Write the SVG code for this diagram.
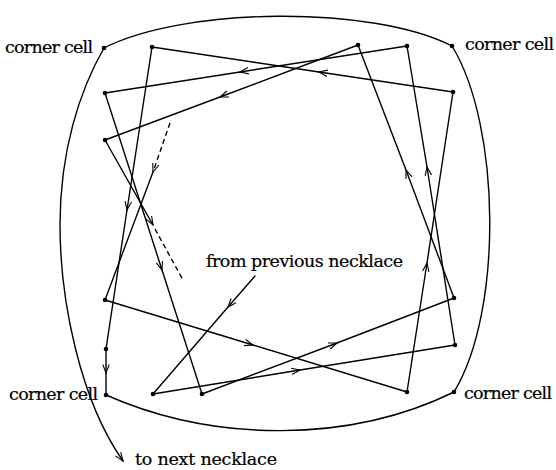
<svg xmlns="http://www.w3.org/2000/svg" width="556" height="470" viewBox="0 0 556 470">
<style>
.ln{fill:none;stroke:#000;stroke-width:1.4;stroke-linecap:round;stroke-linejoin:round}
.ar{marker-mid:url(#arr)}
.dash{stroke-dasharray:5 3.5;stroke-linecap:butt}
.dot{fill:#000}
text{font-family:"DejaVu Serif","Liberation Serif",serif;font-size:17.5px;fill:#000;stroke:#000;stroke-width:0.2}
</style>
<defs>
<marker id="arr" markerUnits="userSpaceOnUse" markerWidth="12" markerHeight="10" viewBox="-10 -5 12 10" refX="0" refY="0" orient="auto" overflow="visible">
<path d="M-8.5,-3.2 L0,0 L-8.5,3.2" fill="none" stroke="#000" stroke-width="1.1"/>
</marker>
</defs>
<g id="border">
<path class="ln" d="M104,48 C184,7 372,5 452,46"/>
<path class="ln" d="M452,46 C501,126 503,312 454,392"/>
<path class="ln" d="M106,395 C215,443 350,443 454,392"/>
<path class="ln" d="M104,48 C80,90 60,150 60,225 C60,300 80,400 123,461" marker-end="url(#arr)"/>
</g>
<g id="connectors">
<path class="ln ar" d="M255,276 L228,307 L153,394"/>
<path class="ln ar" d="M153,394 L300,370 L455,345"/>
<path class="ln ar" d="M455,345 L427,167 L407,46"/>
<path class="ln ar" d="M407,46 L240,72 L105,93"/>
<path class="ln ar" d="M105,93 L162,270 L202,394"/>
<path class="ln ar" d="M202,394 L337,343 L454,298"/>
<path class="ln ar" d="M454,298 L406,170 L358,45"/>
<path class="ln ar" d="M358,45 L220,97 L105,140"/>
<path class="ln" d="M105,140 L153,225" marker-end="url(#arr)"/>
<path class="ln dash" d="M155,229 L183,280"/>
<path class="ln dash" d="M170,123 L153,172" marker-end="url(#arr)"/>
<path class="ln" d="M153,172 L105,300"/>
<path class="ln ar" d="M105,300 L253,345 L407,392"/>
<path class="ln ar" d="M407,392 L427,263 L453,92"/>
<path class="ln ar" d="M453,92 L319,72 L152,47"/>
<path class="ln ar" d="M152,47 L127,210 L106,349"/>
<path class="ln ar" d="M106,349 L106,373 L106,395"/>
</g>
<g id="corner-tl"><circle class="dot" cx="104" cy="48" r="2.3"/><text x="5" y="53" textLength="88">corner cell</text></g>
<g id="corner-tr"><circle class="dot" cx="452" cy="46" r="2.3"/><text x="465" y="50" textLength="89">corner cell</text></g>
<g id="corner-bl"><circle class="dot" cx="106" cy="395" r="2.3"/><text x="9" y="400" textLength="89">corner cell</text></g>
<g id="corner-br"><circle class="dot" cx="454" cy="392" r="2.3"/><text x="464" y="399" textLength="88">corner cell</text></g>
<g id="t1"><circle class="dot" cx="152" cy="47" r="2.3"/></g>
<g id="t2"><circle class="dot" cx="358" cy="45" r="2.3"/></g>
<g id="t3"><circle class="dot" cx="407" cy="46" r="2.3"/></g>
<g id="r1"><circle class="dot" cx="453" cy="92" r="2.3"/></g>
<g id="r2"><circle class="dot" cx="454" cy="298" r="2.3"/></g>
<g id="r3"><circle class="dot" cx="455" cy="345" r="2.3"/></g>
<g id="b1"><circle class="dot" cx="153" cy="394" r="2.3"/></g>
<g id="b2"><circle class="dot" cx="202" cy="394" r="2.3"/></g>
<g id="b3"><circle class="dot" cx="407" cy="392" r="2.3"/></g>
<g id="l0"><circle class="dot" cx="105" cy="93" r="2.3"/></g>
<g id="l1"><circle class="dot" cx="105" cy="140" r="2.3"/></g>
<g id="l2"><circle class="dot" cx="105" cy="300" r="2.3"/></g>
<g id="l3"><circle class="dot" cx="106" cy="349" r="2.3"/></g>
<g id="label-from"><text x="206" y="267" textLength="197">from previous necklace</text></g>
<g id="label-to"><text x="135" y="465" textLength="142">to next necklace</text></g>
</svg>
